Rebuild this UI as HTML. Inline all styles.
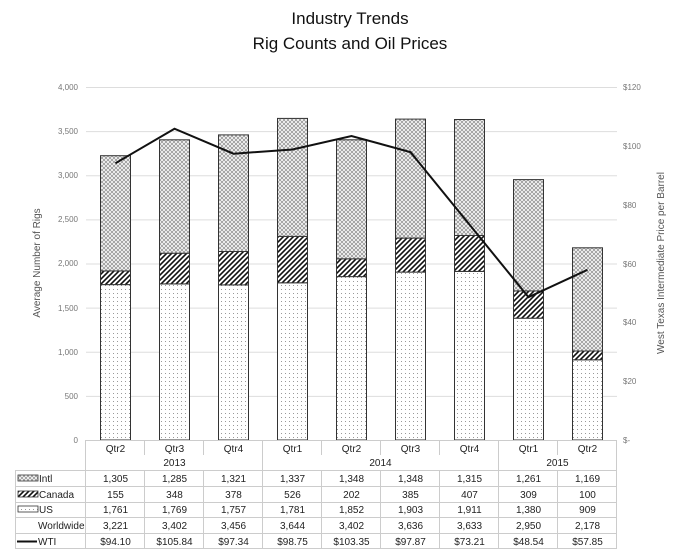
<!DOCTYPE html>
<html><head><meta charset="utf-8"><style>
body{margin:0;background:#fff}
svg{display:block;font-family:"Liberation Sans",sans-serif}
</style></head><body>
<svg width="677" height="552" viewBox="0 0 677 552" xmlns="http://www.w3.org/2000/svg">
<defs>
<pattern id="dots" width="4" height="4" patternUnits="userSpaceOnUse"><rect width="4" height="4" fill="#fff"/><rect x="1" y="1" width="1" height="1" fill="#999"/></pattern>
<pattern id="diag" width="5" height="5" patternUnits="userSpaceOnUse"><rect width="5" height="5" fill="#fff"/><path d="M-1,6 L6,-1 M-1,1 L1,-1 M4,6 L6,4" stroke="#111" stroke-width="1.6"/></pattern>
<pattern id="cross" width="4" height="4" patternUnits="userSpaceOnUse"><rect width="4" height="4" fill="#fff"/><path d="M0,0 L4,4 M4,0 L0,4" stroke="#999" stroke-width="0.9"/></pattern>
</defs>
<text x="350" y="24" font-size="17" text-anchor="middle" fill="#111">Industry Trends</text>
<text x="350" y="49" font-size="17" text-anchor="middle" fill="#111">Rig Counts and Oil Prices</text>
<g stroke="#ddd" stroke-width="1">
<line x1="86" x2="617" y1="87.5" y2="87.5"/><line x1="86" x2="617" y1="131.6" y2="131.6"/><line x1="86" x2="617" y1="175.7" y2="175.7"/><line x1="86" x2="617" y1="219.9" y2="219.9"/><line x1="86" x2="617" y1="264" y2="264"/><line x1="86" x2="617" y1="308.1" y2="308.1"/><line x1="86" x2="617" y1="352.3" y2="352.3"/><line x1="86" x2="617" y1="396.4" y2="396.4"/>
</g>
<g font-size="8" fill="#777" text-anchor="end">
<text x="78" y="90">4,000</text><text x="78" y="134">3,500</text><text x="78" y="178">3,000</text><text x="78" y="222">2,500</text><text x="78" y="266">2,000</text><text x="78" y="311">1,500</text><text x="78" y="355">1,000</text><text x="78" y="399">500</text><text x="78" y="443">0</text>
</g>
<g font-size="8" fill="#777">
<text x="623" y="90">$120</text><text x="623" y="149">$100</text><text x="623" y="208">$80</text><text x="623" y="267">$60</text><text x="623" y="325">$40</text><text x="623" y="384">$20</text><text x="623" y="443">$-</text>
</g>
<text transform="translate(40,263) rotate(-90)" font-size="10" fill="#555" text-anchor="middle">Average Number of Rigs</text>
<text transform="translate(664,263) rotate(-90)" font-size="10" fill="#555" text-anchor="middle">West Texas Intermediate Price per Barrel</text>
<g stroke="#333" stroke-width="1">
<rect x="100.5" y="284.6" width="30" height="155.4" fill="url(#dots)"/><rect x="100.5" y="270.9" width="30" height="13.7" fill="url(#diag)"/><rect x="100.5" y="155.7" width="30" height="115.2" fill="url(#cross)"/>
<rect x="159.5" y="283.9" width="30" height="156.1" fill="url(#dots)"/><rect x="159.5" y="253.2" width="30" height="30.7" fill="url(#diag)"/><rect x="159.5" y="139.8" width="30" height="113.4" fill="url(#cross)"/>
<rect x="218.5" y="284.9" width="30" height="155.1" fill="url(#dots)"/><rect x="218.5" y="251.5" width="30" height="33.4" fill="url(#diag)"/><rect x="218.5" y="134.9" width="30" height="116.6" fill="url(#cross)"/>
<rect x="277.5" y="282.8" width="30" height="157.2" fill="url(#dots)"/><rect x="277.5" y="236.4" width="30" height="46.4" fill="url(#diag)"/><rect x="277.5" y="118.4" width="30" height="118" fill="url(#cross)"/>
<rect x="336.5" y="276.6" width="30" height="163.4" fill="url(#dots)"/><rect x="336.5" y="258.8" width="30" height="17.8" fill="url(#diag)"/><rect x="336.5" y="139.8" width="30" height="119" fill="url(#cross)"/>
<rect x="395.5" y="272.1" width="30" height="167.9" fill="url(#dots)"/><rect x="395.5" y="238.1" width="30" height="34" fill="url(#diag)"/><rect x="395.5" y="119.1" width="30" height="119" fill="url(#cross)"/>
<rect x="454.5" y="271.4" width="30" height="168.6" fill="url(#dots)"/><rect x="454.5" y="235.5" width="30" height="35.9" fill="url(#diag)"/><rect x="454.5" y="119.5" width="30" height="116" fill="url(#cross)"/>
<rect x="513.5" y="318.2" width="30" height="121.8" fill="url(#dots)"/><rect x="513.5" y="290.9" width="30" height="27.3" fill="url(#diag)"/><rect x="513.5" y="179.6" width="30" height="111.3" fill="url(#cross)"/>
<rect x="572.5" y="359.8" width="30" height="80.2" fill="url(#dots)"/><rect x="572.5" y="351" width="30" height="8.8" fill="url(#diag)"/><rect x="572.5" y="247.8" width="30" height="103.2" fill="url(#cross)"/>
</g>
<polyline fill="none" stroke="#111" stroke-width="2" points="115.5,163.2 174.5,128.7 233.5,153.7 292.5,149.5 351.5,136 410.5,152.1 469.5,224.6 528.5,297.2 587.5,269.8"/>
<g stroke="#ccc" stroke-width="1" fill="none">
<line x1="86" x2="617" y1="440.5" y2="440.5"/>
<line x1="15" x2="617" y1="470.5" y2="470.5"/><line x1="15" x2="617" y1="486.5" y2="486.5"/><line x1="15" x2="617" y1="502.5" y2="502.5"/><line x1="15" x2="617" y1="517.5" y2="517.5"/><line x1="15" x2="617" y1="533.5" y2="533.5"/><line x1="15" x2="617" y1="548.5" y2="548.5"/>
<line x1="15.5" x2="15.5" y1="470" y2="549"/>
<line x1="85.5" x2="85.5" y1="440" y2="549"/>
<line x1="144.5" x2="144.5" y1="440" y2="455"/><line x1="203.5" x2="203.5" y1="440" y2="455"/><line x1="321.5" x2="321.5" y1="440" y2="455"/><line x1="380.5" x2="380.5" y1="440" y2="455"/><line x1="439.5" x2="439.5" y1="440" y2="455"/><line x1="557.5" x2="557.5" y1="440" y2="455"/>
<line x1="262.5" x2="262.5" y1="440" y2="470"/><line x1="498.5" x2="498.5" y1="440" y2="470"/>
<line x1="144.5" x2="144.5" y1="470" y2="549"/><line x1="203.5" x2="203.5" y1="470" y2="549"/><line x1="262.5" x2="262.5" y1="470" y2="549"/><line x1="321.5" x2="321.5" y1="470" y2="549"/><line x1="380.5" x2="380.5" y1="470" y2="549"/><line x1="439.5" x2="439.5" y1="470" y2="549"/><line x1="498.5" x2="498.5" y1="470" y2="549"/><line x1="557.5" x2="557.5" y1="470" y2="549"/><line x1="616.5" x2="616.5" y1="440" y2="549"/>
</g>
<g font-size="10" fill="#222" text-anchor="middle">
<text x="115.5" y="452">Qtr2</text><text x="174.5" y="452">Qtr3</text><text x="233.5" y="452">Qtr4</text><text x="292.5" y="452">Qtr1</text><text x="351.5" y="452">Qtr2</text><text x="410.5" y="452">Qtr3</text><text x="469.5" y="452">Qtr4</text><text x="528.5" y="452">Qtr1</text><text x="587.5" y="452">Qtr2</text>
<text x="174.5" y="466">2013</text><text x="380.5" y="466">2014</text><text x="557.5" y="466">2015</text>
<text x="115.5" y="482">1,305</text><text x="174.5" y="482">1,285</text><text x="233.5" y="482">1,321</text><text x="292.5" y="482">1,337</text><text x="351.5" y="482">1,348</text><text x="410.5" y="482">1,348</text><text x="469.5" y="482">1,315</text><text x="528.5" y="482">1,261</text><text x="587.5" y="482">1,169</text>
<text x="115.5" y="498">155</text><text x="174.5" y="498">348</text><text x="233.5" y="498">378</text><text x="292.5" y="498">526</text><text x="351.5" y="498">202</text><text x="410.5" y="498">385</text><text x="469.5" y="498">407</text><text x="528.5" y="498">309</text><text x="587.5" y="498">100</text>
<text x="115.5" y="513">1,761</text><text x="174.5" y="513">1,769</text><text x="233.5" y="513">1,757</text><text x="292.5" y="513">1,781</text><text x="351.5" y="513">1,852</text><text x="410.5" y="513">1,903</text><text x="469.5" y="513">1,911</text><text x="528.5" y="513">1,380</text><text x="587.5" y="513">909</text>
<text x="115.5" y="529">3,221</text><text x="174.5" y="529">3,402</text><text x="233.5" y="529">3,456</text><text x="292.5" y="529">3,644</text><text x="351.5" y="529">3,402</text><text x="410.5" y="529">3,636</text><text x="469.5" y="529">3,633</text><text x="528.5" y="529">2,950</text><text x="587.5" y="529">2,178</text>
<text x="115.5" y="545">$94.10</text><text x="174.5" y="545">$105.84</text><text x="233.5" y="545">$97.34</text><text x="292.5" y="545">$98.75</text><text x="351.5" y="545">$103.35</text><text x="410.5" y="545">$97.87</text><text x="469.5" y="545">$73.21</text><text x="528.5" y="545">$48.54</text><text x="587.5" y="545">$57.85</text>
</g>
<g font-size="10" fill="#222">
<rect x="18" y="475" width="20" height="6" fill="url(#cross)" stroke="#333" stroke-width="0.8"/><text x="39" y="482">Intl</text>
<rect x="18" y="491" width="20" height="6" fill="url(#diag)" stroke="#333" stroke-width="0.8"/><text x="39" y="498">Canada</text>
<rect x="18" y="506" width="20" height="6" fill="url(#dots)" stroke="#333" stroke-width="0.8"/><text x="39" y="513">US</text>
<text x="38" y="529">Worldwide</text>
<line x1="17" x2="37" y1="541.5" y2="541.5" stroke="#111" stroke-width="2"/><text x="38" y="545">WTI</text>
</g>
</svg>
</body></html>
